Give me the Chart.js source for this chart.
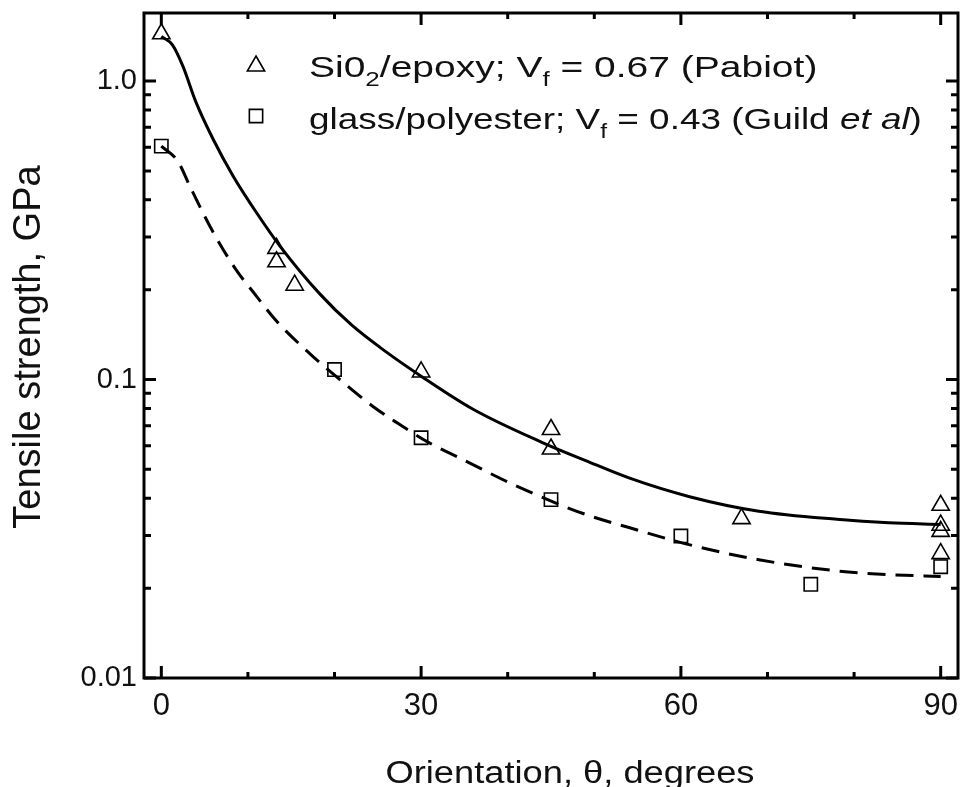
<!DOCTYPE html>
<html>
<head>
<meta charset="utf-8">
<title>Tensile strength vs orientation</title>
<script src="https://cdn.jsdelivr.net/npm/chart.js@4/dist/chart.umd.min.js"></script>
<style>
    html, body { margin: 0; padding: 0; background: #fff; overflow: hidden; }
    #wrap { width: 961px; height: 787px; overflow: hidden; }
    canvas { display: block; }
</style>
</head>
<body>
<div id="wrap"><canvas id="strength-chart" width="961" height="787"></canvas></div>
<script>
// SiO2/epoxy measurements (Pabiot)
const epoxyAngle = [0, 13.3, 13.3, 15.4, 30, 45, 45, 67, 90, 90, 90, 90]
const epoxyStrength = [1.44, 0.275, 0.248, 0.207, 0.106, 0.068, 0.0585, 0.0342, 0.0379, 0.0325, 0.031, 0.0261]

// glass/polyester measurements (Guild et al)
const polyAngle = [0, 20, 30, 45, 60, 75, 90]
const polyStrength = [0.605, 0.108, 0.0638, 0.0396, 0.0299, 0.0206, 0.0236]

// predicted curves
const epoxyFitAngle = [0, 1.3, 2.5, 4, 6, 8.3, 11, 13.7, 18.3, 22, 26, 30, 36, 44, 49, 54, 61, 69, 78, 84, 90]
const epoxyFitStrength = [1.41, 1.32, 1.12, 0.85, 0.637, 0.48, 0.362, 0.28, 0.1936, 0.152, 0.1235, 0.1026, 0.0795, 0.0615, 0.0535, 0.0468, 0.0405, 0.0362, 0.034, 0.0331, 0.0327]
const polyFitAngle = [0, 1.9, 3.3, 4.8, 6.3, 8.6, 11, 13.3, 17.3, 20.6, 24.4, 28.7, 31, 34.4, 40.2, 46, 49.4, 53.7, 61.3, 69, 78.3, 84, 90]
const polyFitStrength = [0.605, 0.539, 0.444, 0.362, 0.3, 0.234, 0.19, 0.157, 0.121, 0.1, 0.0814, 0.0672, 0.0612, 0.0547, 0.0451, 0.0381, 0.035, 0.0321, 0.0278, 0.0249, 0.0228, 0.0222, 0.0219]

const xTicks = [0, 30, 60, 90]
const xTickLabels = ['0', '30', '60', '90']
const xMinorTicks = [10, 20, 40, 50, 70, 80]
const yTicks = [0.01, 0.1, 1]
const yTickLabels = ['0.01', '0.1', '1.0']
const yMinorTicks = [0.02, 0.03, 0.04, 0.05, 0.06, 0.07, 0.08, 0.09, 0.2, 0.3, 0.4, 0.5, 0.6, 0.7, 0.8, 0.9]

const xTitle = 'Orientation, θ, degrees'
const yTitle = 'Tensile strength, GPa'
const legendRows = [
    [{ t: 'Si0' }, { t: '2', sub: true }, { t: '/epoxy; V' }, { t: 'f', sub: true }, { t: ' = 0.67 (Pabiot)' }],
    [{ t: 'glass/polyester; V' }, { t: 'f', sub: true }, { t: ' = 0.43 (Guild ' }, { t: 'et al', italic: true }, { t: ')' }]
]

const textFont = '"Liberation Sans", Arial, sans-serif'

function toPoints(xs, ys) {
    return xs.map((x, i) => ({ x: x, y: ys[i] }))
}

// draws a row of text pieces, handling subscripts and italics
function drawRuns(ctx, runs, x, y, size, stretch) {
    ctx.save()
    ctx.translate(x, y)
    ctx.scale(stretch, 1)
    let cx = 0
    runs.forEach(r => {
        const s = r.sub ? Math.round(size * 0.68) : size
        ctx.font = (r.italic ? 'italic ' : '') + s + 'px ' + textFont
        ctx.fillText(r.t, cx, r.sub ? size * 0.3 : 0)
        cx += ctx.measureText(r.t).width
    })
    ctx.restore()
}

const whiteBackground = {
    id: 'whiteBackground',
    beforeDraw(chart) {
        const ctx = chart.ctx
        ctx.save()
        ctx.fillStyle = '#fff'
        ctx.fillRect(0, 0, chart.width, chart.height)
        ctx.restore()
    }
}

// box frame with inward ticks on all four sides, plus titles and legend
const frameAndLabels = {
    id: 'frameAndLabels',
    afterDraw(chart) {
        const ctx = chart.ctx
        const a = chart.chartArea
        const x = chart.scales.x
        const y = chart.scales.y
        ctx.save()
        ctx.strokeStyle = '#000'
        ctx.lineCap = 'butt'

        function xTick(v, len, w) {
            const px = x.getPixelForValue(v)
            ctx.lineWidth = w
            ctx.beginPath()
            ctx.moveTo(px, a.bottom); ctx.lineTo(px, a.bottom - len)
            ctx.moveTo(px, a.top); ctx.lineTo(px, a.top + len)
            ctx.stroke()
        }
        function yTick(v, len, w) {
            const py = y.getPixelForValue(v)
            ctx.lineWidth = w
            ctx.beginPath()
            ctx.moveTo(a.left, py); ctx.lineTo(a.left + len, py)
            ctx.moveTo(a.right, py); ctx.lineTo(a.right - len, py)
            ctx.stroke()
        }
        xTicks.forEach(v => xTick(v, 12, 3))
        xMinorTicks.forEach(v => xTick(v, 6, 3))
        yTicks.forEach(v => yTick(v, 12, 3))
        yMinorTicks.forEach(v => yTick(v, 7, 3))

        ctx.lineWidth = 3
        ctx.strokeRect(a.left, a.top, a.right - a.left, a.bottom - a.top)

        ctx.fillStyle = '#111'
        ctx.textAlign = 'left'
        ctx.textBaseline = 'alphabetic'

        // x title, centred a little right of the plot middle
        ctx.font = '31px ' + textFont
        const xw = ctx.measureText(xTitle).width * 1.17
        drawRuns(ctx, [{ t: xTitle }], 570 - xw / 2, 783, 31, 1.17)

        // y title, rotated
        ctx.save()
        ctx.translate(40, 347)
        ctx.rotate(-Math.PI / 2)
        ctx.font = '38px ' + textFont
        ctx.textAlign = 'center'
        ctx.fillText(yTitle, 0, 0)
        ctx.restore()

        // legend
        const marks = [
            { pointStyle: 'triangle', radius: 10, borderWidth: 1.6 },
            { pointStyle: 'rect', radius: 9.4, borderWidth: 1.6 }
        ]
        const rowY = [66, 116]
        marks.forEach((m, i) => {
            ctx.fillStyle = 'rgba(0,0,0,0)'
            ctx.strokeStyle = '#000'
            ctx.lineWidth = m.borderWidth
            Chart.helpers.drawPoint(ctx, m, 256, rowY[i])
        })
        ctx.fillStyle = '#111'
        drawRuns(ctx, legendRows[0], 309, 77, 30, 1.3)
        drawRuns(ctx, legendRows[1], 309, 129, 30, 1.23)
        ctx.restore()
    }
}

const ctx = document.getElementById('strength-chart').getContext('2d')
const chart = new Chart(ctx, {
    type: 'scatter',
    data: {
        datasets: [
            {
                label: 'Si02/epoxy',
                data: toPoints(epoxyAngle, epoxyStrength),
                pointStyle: 'triangle',
                pointRadius: 10,
                borderWidth: 1.6,
                borderColor: '#000',
                backgroundColor: 'rgba(0,0,0,0)'
            },
            {
                label: 'glass/polyester',
                data: toPoints(polyAngle, polyStrength),
                pointStyle: 'rect',
                pointRadius: 9.4,
                borderWidth: 1.6,
                borderColor: '#000',
                backgroundColor: 'rgba(0,0,0,0)'
            },
            {
                label: 'Si02/epoxy curve',
                data: toPoints(epoxyFitAngle, epoxyFitStrength),
                showLine: true,
                pointRadius: 0,
                borderColor: '#000',
                borderWidth: 3,
                cubicInterpolationMode: 'monotone'
            },
            {
                label: 'glass/polyester curve',
                data: toPoints(polyFitAngle, polyFitStrength),
                showLine: true,
                pointRadius: 0,
                borderColor: '#000',
                borderWidth: 3,
                borderDash: [18, 10],
                cubicInterpolationMode: 'monotone'
            }
        ]
    },
    options: {
        responsive: false,
        animation: false,
        events: [],
        layout: { autoPadding: false, padding: { top: 13, right: 3, left: 0, bottom: 0 } },
        plugins: {
            legend: { display: false },
            tooltip: { enabled: false }
        },
        scales: {
            x: {
                type: 'linear',
                min: -2,
                max: 92,
                bounds: 'data',
                grid: { display: false, drawTicks: false },
                border: { display: false },
                afterBuildTicks: scale => { scale.ticks = xTicks.map(v => ({ value: v })) },
                afterFit: scale => {
                    scale.height = 109
                    scale.paddingLeft = 0
                    scale.paddingRight = 0
                },
                ticks: {
                    autoSkip: false,
                    maxRotation: 0,
                    padding: 10,
                    color: '#111',
                    font: { family: textFont, size: 31 },
                    callback: (v, i) => xTickLabels[i]
                }
            },
            y: {
                type: 'logarithmic',
                min: 0.01,
                max: 1.69,
                bounds: 'data',
                grid: { display: false, drawTicks: false },
                border: { display: false },
                afterBuildTicks: scale => { scale.ticks = yTicks.map(v => ({ value: v })) },
                afterFit: scale => {
                    scale.width = 144
                    scale.paddingTop = 0
                    scale.paddingBottom = 0
                },
                ticks: {
                    autoSkip: false,
                    padding: 7,
                    color: '#111',
                    font: { family: textFont, size: 29 },
                    callback: (v, i) => yTickLabels[i]
                }
            }
        }
    },
    plugins: [whiteBackground, frameAndLabels]
})
</script>
</body>
</html>
